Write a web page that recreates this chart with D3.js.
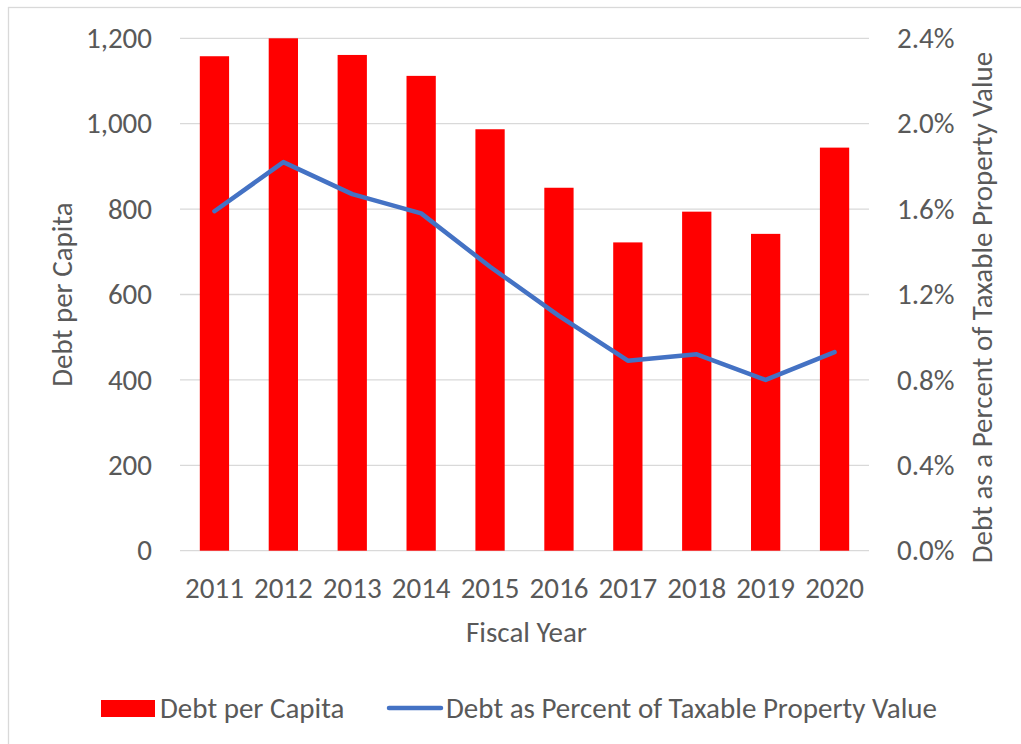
<!DOCTYPE html>
<html>
<head>
<meta charset="utf-8">
<script src="https://cdn.jsdelivr.net/npm/d3@7/dist/d3.min.js"></script>
<style>
  html, body { margin: 0; padding: 0; background: #fff; }
  svg { display: block; }
  text { font-family: Carlito, Calibri, Lato, sans-serif; fill: #595959; }
</style>
</head>
<body>
<svg id="chart" width="1021" height="744"></svg>
<script>
// Fiscal years and the two series
const years = ["2011", "2012", "2013", "2014", "2015", "2016", "2017", "2018", "2019", "2020"];
const debtPerCapita = [1158, 1200, 1161, 1112, 987, 850, 722, 794, 742, 944];
const debtPctOfValue = [0.0159, 0.0182, 0.0167, 0.0158, 0.0133, 0.0110, 0.0089, 0.0092, 0.0080, 0.0093];
const leftTicks = [0, 200, 400, 600, 800, 1000, 1200];
const rightTicks = [0, 0.004, 0.008, 0.012, 0.016, 0.020, 0.024];

const svg = d3.select("#chart");
const plot = { left: 180, right: 869, top: 38.3, bottom: 550.7 };
const fontSize = 29;
const fontFamily = "Carlito, Calibri, Lato, sans-serif";

// chart frame
svg.append("rect")
  .attr("x", 8.5).attr("y", 7.5).attr("width", 1030).attr("height", 760)
  .attr("fill", "#fff").attr("stroke", "#d9d9d9").attr("stroke-width", 1.3);

const x = d3.scaleBand().domain(years).range([plot.left, plot.right]).padding(0);
const yL = d3.scaleLinear().domain([0, 1200]).range([plot.bottom, plot.top]);
const yR = d3.scaleLinear().domain([0, 0.024]).range([plot.bottom, plot.top]);

// horizontal gridlines
svg.append("g")
  .selectAll("line").data(leftTicks).join("line")
  .attr("x1", plot.left).attr("x2", plot.right)
  .attr("y1", d => yL(d)).attr("y2", d => yL(d))
  .attr("stroke", "#d9d9d9").attr("stroke-width", 1.3);

function styleAxis(g) {
  g.select(".domain").remove();
  g.selectAll("text")
    .style("font-size", fontSize + "px")
    .style("font-family", fontFamily)
    .attr("fill", "#595959");
}

// left axis labels
svg.append("g")
  .attr("transform", `translate(${plot.left},0)`)
  .call(d3.axisLeft(yL).tickValues(leftTicks).tickSize(0).tickPadding(28).tickFormat(d3.format(",")))
  .call(styleAxis);

// right axis labels
svg.append("g")
  .attr("transform", `translate(${plot.right},0)`)
  .call(d3.axisRight(yR).tickValues(rightTicks).tickSize(0).tickPadding(28).tickFormat(d3.format(".1%")))
  .call(styleAxis);

// category axis labels
svg.append("g")
  .attr("transform", `translate(0,${plot.bottom})`)
  .call(d3.axisBottom(x).tickSize(0).tickPadding(27))
  .call(styleAxis);

// bars
const barFrac = 0.425;
svg.append("g")
  .selectAll("rect").data(years).join("rect")
  .attr("x", (d) => x(d) + x.bandwidth() * (1 - barFrac) / 2)
  .attr("width", x.bandwidth() * barFrac)
  .attr("y", (d, i) => yL(debtPerCapita[i]))
  .attr("height", (d, i) => yL(0) - yL(debtPerCapita[i]))
  .attr("fill", "#ff0000");

// percent line
const line = d3.line()
  .x((d, i) => x(years[i]) + x.bandwidth() / 2)
  .y(d => yR(d));
svg.append("path")
  .datum(debtPctOfValue)
  .attr("d", line)
  .attr("fill", "none")
  .attr("stroke", "#4472c4")
  .attr("stroke-width", 4.5)
  .attr("stroke-linejoin", "round")
  .attr("stroke-linecap", "round");

// axis titles
svg.append("text")
  .attr("transform", `translate(72,${(plot.top + plot.bottom) / 2}) rotate(-90)`)
  .attr("text-anchor", "middle")
  .style("font-size", fontSize + "px")
  .text("Debt per Capita");

svg.append("text")
  .attr("transform", `translate(992,${(plot.top + plot.bottom) / 2 + 13}) rotate(-90)`)
  .attr("text-anchor", "middle")
  .style("font-size", fontSize + "px")
  .text("Debt as a Percent of Taxable Property Value");

svg.append("text")
  .attr("x", (plot.left + plot.right) / 2 + 2)
  .attr("y", 642)
  .attr("text-anchor", "middle")
  .style("font-size", fontSize + "px")
  .text("Fiscal Year");

// legend
const legend = svg.append("g");
legend.append("rect")
  .attr("x", 101).attr("y", 700).attr("width", 54).attr("height", 17)
  .attr("fill", "#ff0000");
legend.append("text")
  .attr("x", 160).attr("y", 718)
  .style("font-size", fontSize + "px")
  .text("Debt per Capita");
legend.append("line")
  .attr("x1", 389).attr("x2", 441).attr("y1", 708).attr("y2", 708)
  .attr("stroke", "#4472c4").attr("stroke-width", 4.5).attr("stroke-linecap", "round");
legend.append("text")
  .attr("x", 446).attr("y", 718)
  .style("font-size", fontSize + "px")
  .text("Debt as Percent of Taxable Property Value");
</script>
</body>
</html>
